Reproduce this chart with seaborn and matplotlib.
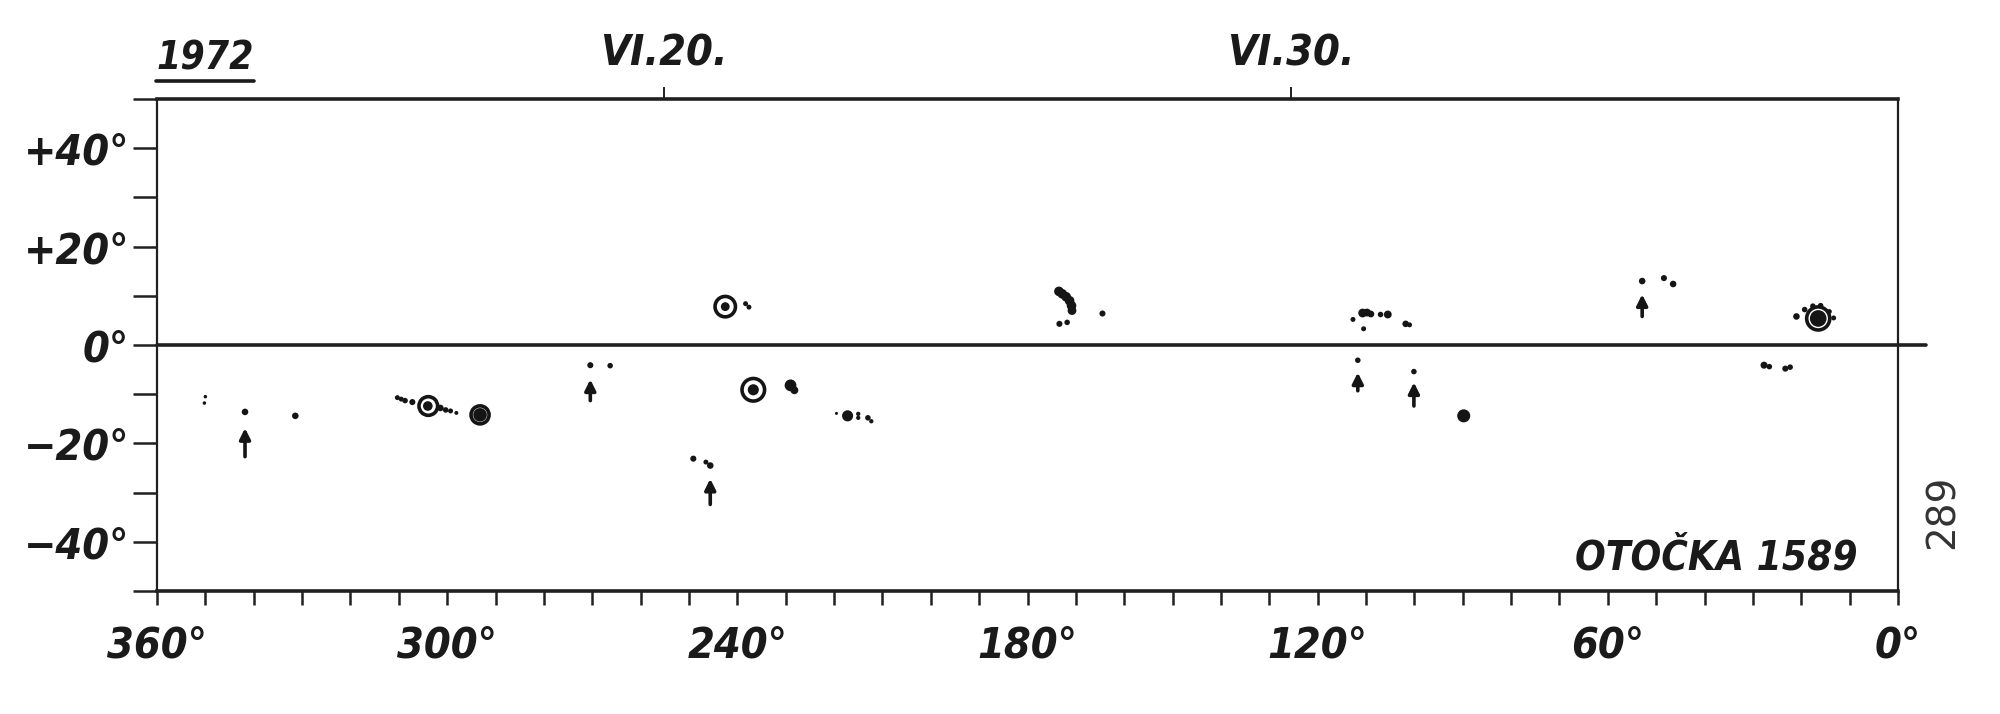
import numpy as np
import pandas as pd
import matplotlib.pyplot as plt
import seaborn as sns
from matplotlib.lines import Line2D
from matplotlib import font_manager

# Sunspot map for Carrington rotation 1589 (June 1972)
# filled spots: longitude (deg), latitude (deg), relative spot area
spot_lon = [350.0, 350.2, 341.8, 331.4,
            310.3, 309.5, 308.7, 307.2, 304.0, 301.4, 300.3, 299.3, 298.1,
            293.2, 270.4, 266.3,
            229.0, 228.2, 219.5, 217.2, 215.0, 215.0, 213.0, 212.3,
            249.1, 246.5, 245.6,
            236.7, 242.5, 238.3, 237.6,
            173.5, 172.8, 172.0, 171.3, 170.9, 170.8, 173.4, 171.8, 164.5,
            112.7, 110.7, 109.8, 109.0, 107.0, 105.5, 110.5, 101.8, 101.0,
            111.7, 100.1, 89.8,
            52.9, 48.4, 46.5,
            16.5, 21.0, 19.3, 17.6, 16.0, 14.2, 13.3,
            27.7, 26.6, 23.3, 22.3]
spot_lat = [-10.5, -11.8, -13.6, -14.4,
            -10.7, -11.0, -11.3, -11.6, -12.4, -12.8, -13.2, -13.4, -13.8,
            -14.2, -4.1, -4.2,
            -8.2, -9.2, -13.9, -14.4, -14.0, -14.8, -14.8, -15.5,
            -23.1, -23.8, -24.5,
            -9.1, 7.8, 8.4, 7.7,
            10.9, 10.4, 9.8, 9.0, 8.0, 7.0, 4.3, 4.6, 6.4,
            5.2, 6.5, 6.6, 6.3, 6.2, 6.2, 3.3, 4.3, 4.1,
            -3.1, -5.4, -14.4,
            13.0, 13.6, 12.4,
            5.4, 5.8, 7.2, 7.9, 8.0, 6.8, 5.5,
            -4.1, -4.4, -4.8, -4.5]
spot_area = [4, 4, 14, 14,
             8, 8, 10, 12, 30, 14, 10, 8, 5,
             60, 12, 10,
             45, 20, 3, 40, 6, 6, 10, 6,
             12, 8, 14,
             40, 25, 8, 8,
             30, 30, 30, 30, 30, 25, 12, 10, 12,
             8, 25, 20, 15, 10, 20, 8, 14, 8,
             10, 10, 55,
             14, 12, 14,
             90, 14, 10, 10, 10, 8, 8,
             16, 10, 12, 10]

# penumbra outlines
ring_lon = [303.9, 293.2, 236.7, 242.5, 16.5]
ring_lat = [-12.4, -14.2, -9.1, 7.8, 5.4]
ring_area = [150, 140, 220, 180, 230]

# arrows under selected groups
arrow_lon = [341.8, 270.4, 245.6, 111.7, 100.1, 52.9]
arrow_tail = [-22.7, -11.3, -32.4, -9.3, -12.4, 5.8]
arrow_head = [-16.9, -7.0, -27.2, -5.6, -7.6, 10.3]

lon_ticks = list(range(0, 361, 10))
lon_labels = {360: '360°', 300: '300°', 240: '240°', 180: '180°', 120: '120°', 60: '60°', 0: '0°'}
lat_ticks = list(range(-50, 51, 10))
lat_labels = {40: '+40°', 20: '+20°', 0: '0°', -20: '−20°', -40: '−40°'}
date_lons = [255.1, 125.6]
date_labels = ['VI.20.', 'VI.30.']
year_label = '1972'
rotation_label = 'OTOČKA 1589'
page_label = '289'

spots = pd.DataFrame({'lon': spot_lon, 'lat': spot_lat, 'area': spot_area})
rings = pd.DataFrame({'lon': ring_lon, 'lat': ring_lat, 'area': ring_area})

sns.set_style('white')

# hand lettering is narrow: use a condensed face if one is installed
probe = font_manager.FontProperties(family='DejaVu Sans', stretch='condensed',
                                    style='italic', weight='bold')
if 'Condensed' in font_manager.findfont(probe, fallback_to_default=True):
    plt.rcParams['font.family'] = ['DejaVu Sans']
    lbl = dict(fontsize=31, style='italic', weight='bold', stretch='condensed',
               color='#1a1a1a')
else:
    plt.rcParams['font.family'] = ['Liberation Sans', 'DejaVu Sans']
    lbl = dict(fontsize=29, style='italic', weight='bold', color='#1a1a1a')

fig = plt.figure(figsize=(20, 7.14), dpi=100)
ax = fig.add_axes([0.0785, 0.1723, 0.8705, 0.689])

sns.scatterplot(data=spots, x='lon', y='lat', size='area',
                sizes={v: 1.6 * v for v in spots['area'].unique()},
                color='#151515', edgecolor='none', legend=False, ax=ax)
sns.scatterplot(data=rings, x='lon', y='lat', size='area',
                sizes={v: 1.2 * v for v in rings['area'].unique()},
                facecolor='none', edgecolor='#151515', linewidth=2.6,
                legend=False, ax=ax)

for lon, t, h in zip(arrow_lon, arrow_tail, arrow_head):
    ax.annotate('', xy=(lon, h), xytext=(lon, t),
                arrowprops=dict(arrowstyle='-|>', color='#151515', lw=2.6,
                                mutation_scale=16, shrinkA=0, shrinkB=0))

# equator line, running a bit past the right frame
ax.axhline(0, xmin=0, xmax=1.016, color='#202020', lw=2.6, clip_on=False)

ax.set_xlim(360, 0)
ax.set_ylim(-50, 50)
ax.set_xticks(lon_ticks)
ax.set_xticklabels([lon_labels.get(t, '') for t in lon_ticks], **lbl)
ax.set_yticks(lat_ticks)
ax.set_yticklabels([lat_labels.get(t, '') for t in lat_ticks], **lbl)
ax.tick_params(axis='x', direction='out', length=10, width=1.8, pad=14,
               color='#202020', bottom=True)
ax.tick_params(axis='y', direction='out', length=17, width=1.8, pad=3,
               color='#202020', left=True)
ax.set_xlabel('')
ax.set_ylabel('')
for side, w in [('top', 2.6), ('bottom', 2.6), ('left', 1.6), ('right', 1.6)]:
    ax.spines[side].set_linewidth(w)
    ax.spines[side].set_color('#202020')

top = ax.twiny()
top.set_xlim(360, 0)
top.set_xticks(date_lons)
top.set_xticklabels(date_labels, **lbl)
top.tick_params(axis='x', direction='out', length=9, width=1.4, pad=9,
                color='#202020')
for s in top.spines.values():
    s.set_visible(False)

ax.text(0.977, 0.026, rotation_label, transform=ax.transAxes,
        ha='right', va='bottom', **{**lbl, 'fontsize': lbl['fontsize'] - 2})

# underlined year in the top-left corner
year = fig.text(0.078, 0.892, year_label, ha='left', va='bottom',
                **{**lbl, 'fontsize': lbl['fontsize'] - 3})
fig.canvas.draw()
bb = year.get_window_extent().transformed(fig.transFigure.inverted())
fig.add_artist(Line2D([bb.x0, bb.x1], [bb.y0 - 0.006, bb.y0 - 0.006],
                      color='#1a1a1a', lw=2.6))

fig.text(0.9715, 0.283, page_label, rotation=90, ha='center', va='center',
         fontsize=28, color='#333333', family='DejaVu Sans')

fig.savefig('out.png', dpi=100, facecolor='white')
